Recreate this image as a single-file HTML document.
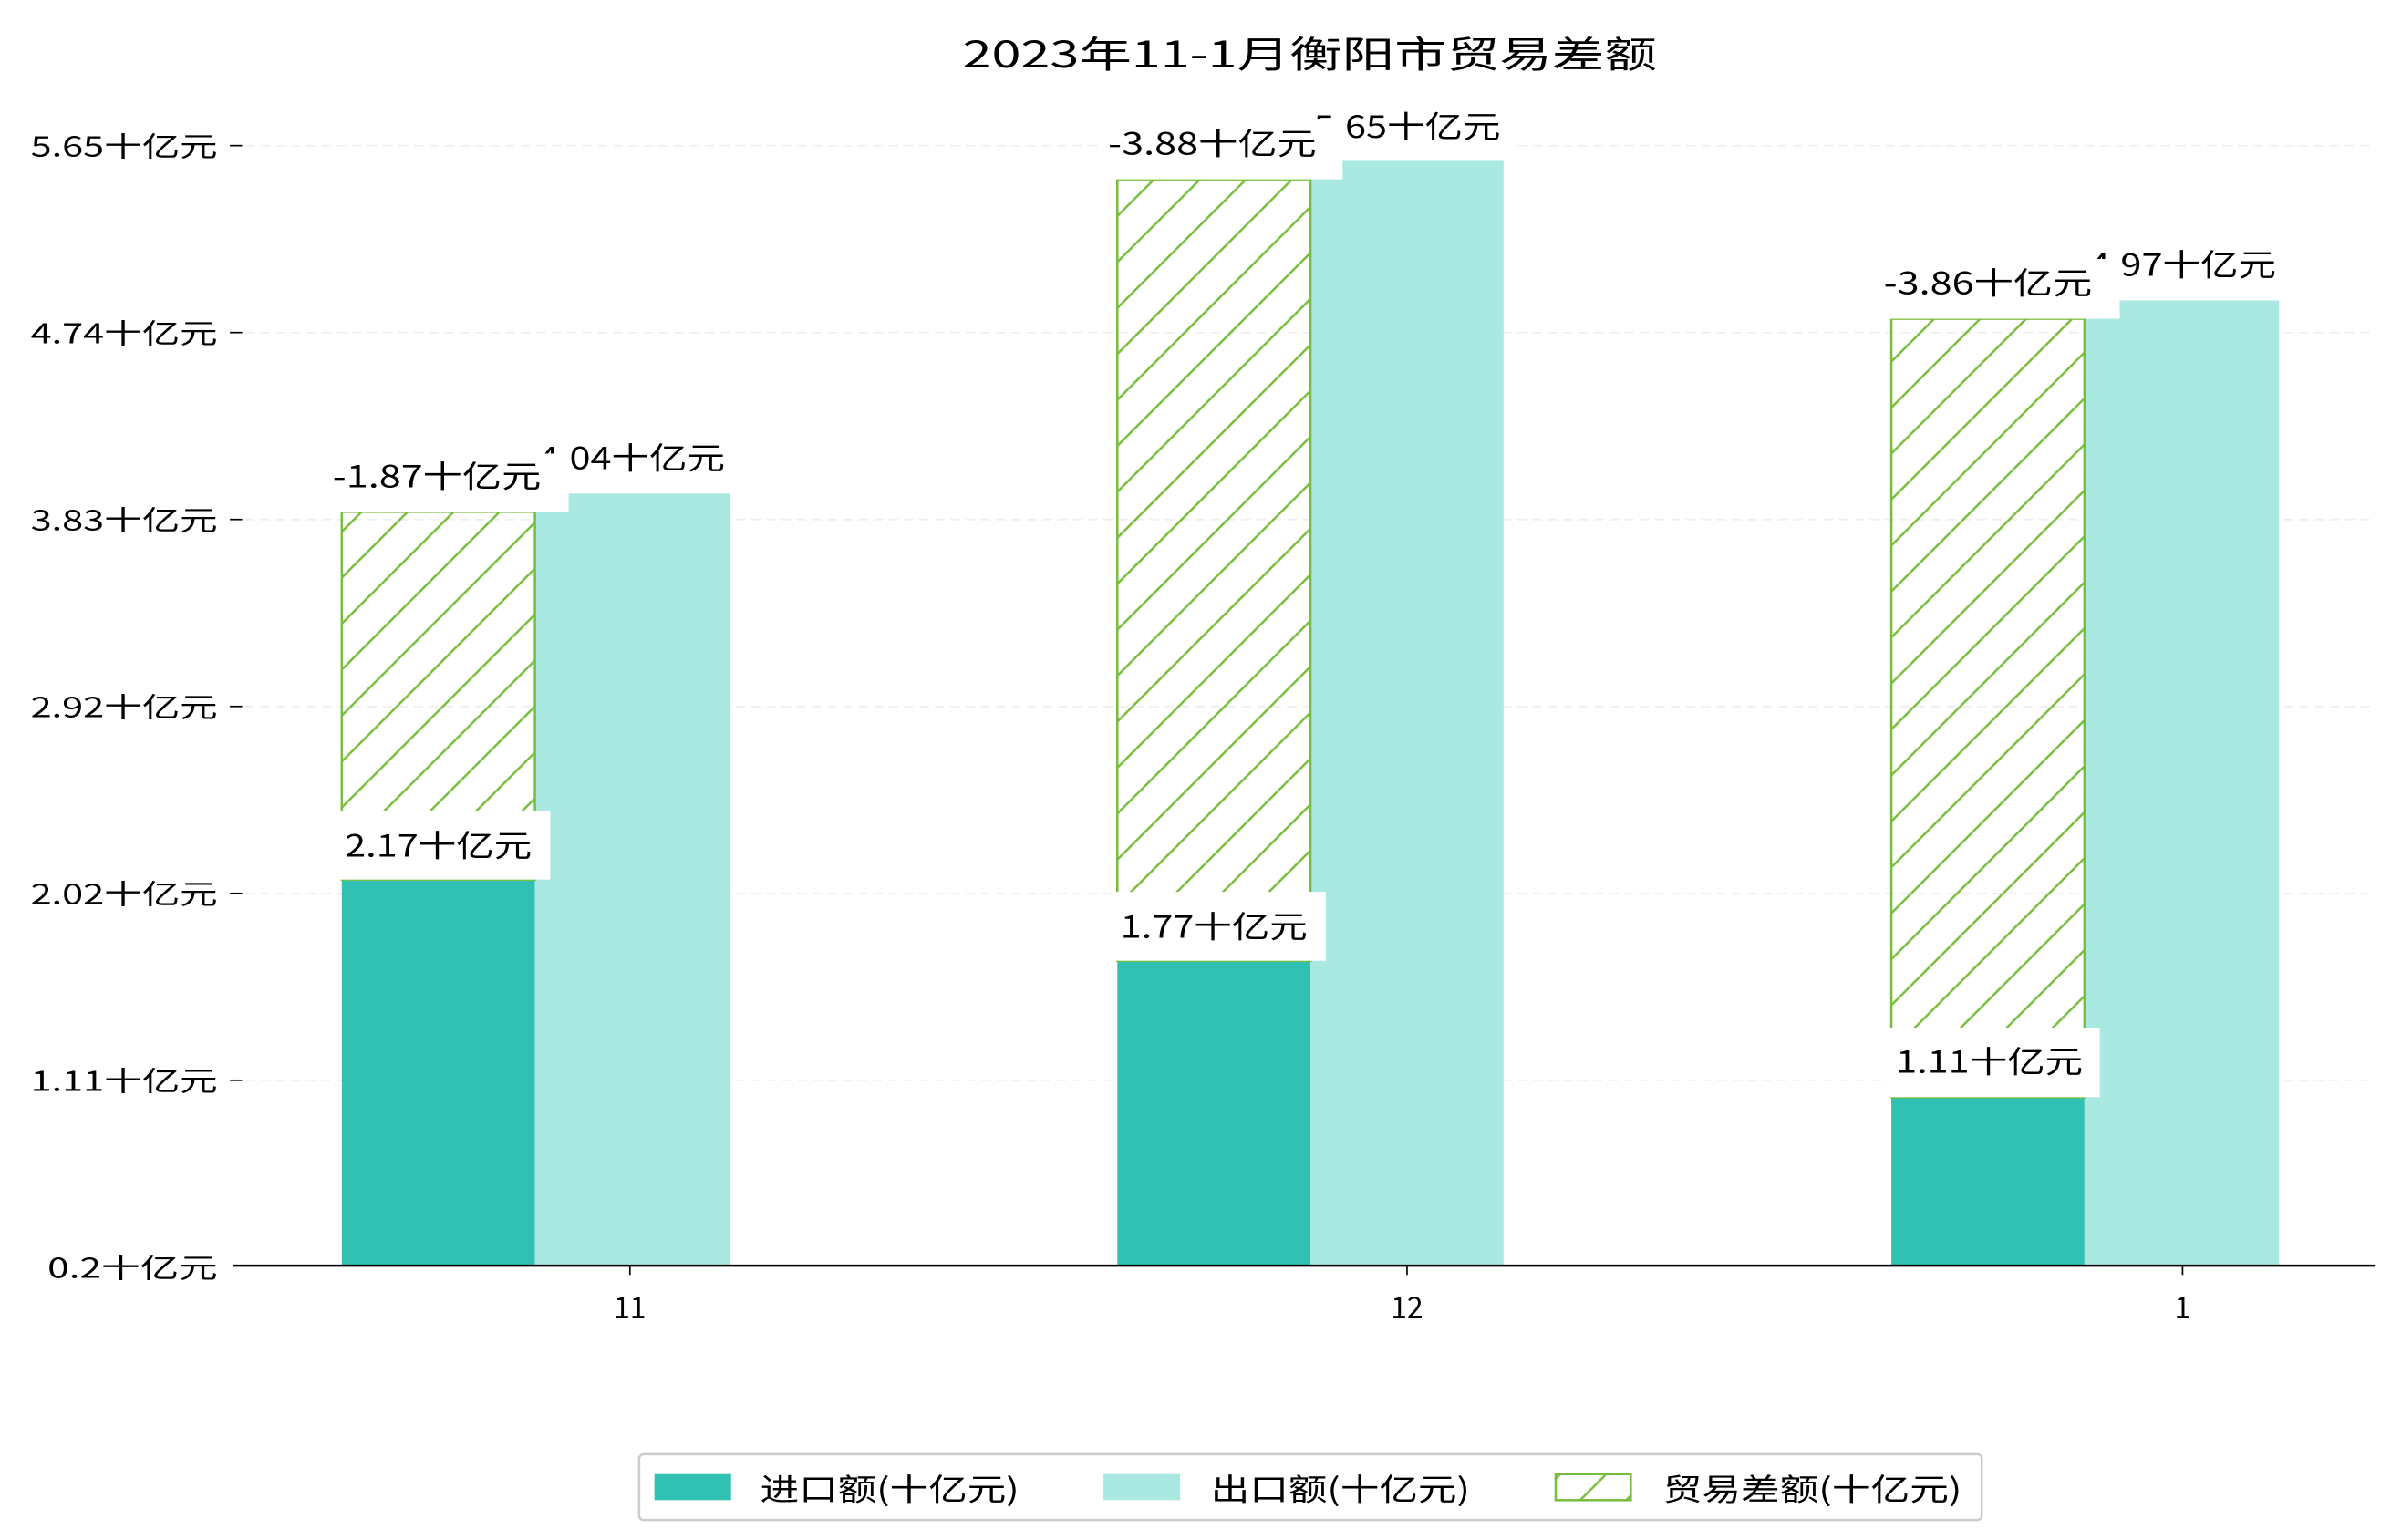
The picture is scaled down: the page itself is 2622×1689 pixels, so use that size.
<!DOCTYPE html>
<html><head><meta charset="utf-8"><style>html,body{margin:0;padding:0;background:#fff}svg{display:block}text{font-family:"Noto Sans CJK SC",sans-serif;fill:#000}</style></head>
<body>
<svg width="2622" height="1689" viewBox="0 0 1560 1005" preserveAspectRatio="none" xmlns="http://www.w3.org/2000/svg">
<defs>
<pattern id="h" patternUnits="userSpaceOnUse" width="30" height="30">
<path d="M-5,35 L35,-5 M-20,20 L20,-20 M10,50 L50,10" stroke="#78be3d" stroke-width="1.5"/>
</pattern>
</defs>
<text x="628" y="44" font-size="24" textLength="453" lengthAdjust="spacingAndGlyphs">2023年11-1月衡阳市贸易差额</text>
<g stroke="#eee" stroke-width="1" stroke-dasharray="6,4">
<line x1="160" x2="1550" y1="95" y2="95"/><line x1="160" x2="1550" y1="217" y2="217"/><line x1="160" x2="1550" y1="339" y2="339"/><line x1="160" x2="1550" y1="461" y2="461"/><line x1="160" x2="1550" y1="583" y2="583"/><line x1="160" x2="1550" y1="705" y2="705"/>
</g>
<g stroke="#000" stroke-width="1">
<line x1="150" x2="158" y1="95" y2="95"/><line x1="150" x2="158" y1="217" y2="217"/><line x1="150" x2="158" y1="339" y2="339"/><line x1="150" x2="158" y1="461" y2="461"/><line x1="150" x2="158" y1="583" y2="583"/><line x1="150" x2="158" y1="705" y2="705"/>
</g>
<g font-size="18">
<text x="20" y="102" textLength="122" lengthAdjust="spacingAndGlyphs">5.65十亿元</text>
<text x="20" y="224" textLength="122" lengthAdjust="spacingAndGlyphs">4.74十亿元</text>
<text x="20" y="346" textLength="122" lengthAdjust="spacingAndGlyphs">3.83十亿元</text>
<text x="20" y="468" textLength="122" lengthAdjust="spacingAndGlyphs">2.92十亿元</text>
<text x="20" y="590" textLength="122" lengthAdjust="spacingAndGlyphs">2.02十亿元</text>
<text x="20" y="712" textLength="122" lengthAdjust="spacingAndGlyphs">1.11十亿元</text>
<text x="31" y="834" textLength="111" lengthAdjust="spacingAndGlyphs">0.2十亿元</text>
</g>
<rect x="223" y="574" width="126" height="252" fill="#31c1b3"/>
<rect x="349" y="322" width="127" height="504" fill="#aae8e2"/>
<rect x="223" y="334" width="126" height="240" fill="url(#h)" stroke="#78be3d" stroke-width="1.5"/>
<rect x="729" y="627" width="126" height="199" fill="#31c1b3"/>
<rect x="855" y="105" width="126" height="721" fill="#aae8e2"/>
<rect x="729" y="117" width="126" height="510" fill="url(#h)" stroke="#78be3d" stroke-width="1.5"/>
<rect x="1234" y="716" width="126" height="110" fill="#31c1b3"/>
<rect x="1360" y="196" width="127" height="630" fill="#aae8e2"/>
<rect x="1234" y="208" width="126" height="508" fill="url(#h)" stroke="#78be3d" stroke-width="1.5"/>
<line x1="152" x2="1550" y1="826" y2="826" stroke="#000" stroke-width="1.5"/>
<g stroke="#000"><line x1="411" x2="411" y1="826" y2="832"/><line x1="918" x2="918" y1="826" y2="832"/><line x1="1424" x2="1424" y1="826" y2="832"/></g>
<g font-size="19" text-anchor="middle"><text x="411" y="860">11</text><text x="918" y="860">12</text><text x="1424" y="860">1</text></g>
<g font-size="20">
<rect x="220" y="529" width="139" height="45" fill="#fff"/><text x="225" y="559" textLength="122" lengthAdjust="spacingAndGlyphs">2.17十亿元</text>
<rect x="344" y="283" width="138" height="39" fill="#fff"/><text x="351" y="306" textLength="122" lengthAdjust="spacingAndGlyphs">4.04十亿元</text>
<rect x="212" y="296" width="159" height="38" fill="#fff"/><text x="217" y="318" textLength="136" lengthAdjust="spacingAndGlyphs">-1.87十亿元</text>
<rect x="726" y="582" width="139" height="45" fill="#fff"/><text x="731" y="612" textLength="122" lengthAdjust="spacingAndGlyphs">1.77十亿元</text>
<rect x="850" y="66" width="138" height="39" fill="#fff"/><text x="857" y="90" textLength="122" lengthAdjust="spacingAndGlyphs">5.65十亿元</text>
<rect x="718" y="78" width="158" height="39" fill="#fff"/><text x="723" y="101" textLength="136" lengthAdjust="spacingAndGlyphs">-3.88十亿元</text>
<rect x="1232" y="671" width="138" height="45" fill="#fff"/><text x="1237" y="700" textLength="122" lengthAdjust="spacingAndGlyphs">1.11十亿元</text>
<rect x="1355" y="157" width="138" height="39" fill="#fff"/><text x="1363" y="180" textLength="122" lengthAdjust="spacingAndGlyphs">4.97十亿元</text>
<rect x="1224" y="169" width="159" height="39" fill="#fff"/><text x="1229" y="192" textLength="136" lengthAdjust="spacingAndGlyphs">-3.86十亿元</text>
</g>
<rect x="417" y="949" width="876" height="43" rx="3" fill="#fff" stroke="#ccc" stroke-width="1.5"/>
<rect x="427" y="962" width="50" height="17" fill="#31c1b3"/>
<rect x="720" y="962" width="50" height="17" fill="#aae8e2"/>
<rect x="1015" y="962" width="49" height="17" fill="url(#h)" stroke="#78be3d" stroke-width="1.5"/>
<g font-size="20">
<text x="496" y="979" textLength="169" lengthAdjust="spacingAndGlyphs">进口额(十亿元)</text>
<text x="790" y="979" textLength="169" lengthAdjust="spacingAndGlyphs">出口额(十亿元)</text>
<text x="1085" y="979" textLength="195" lengthAdjust="spacingAndGlyphs">贸易差额(十亿元)</text>
</g>
</svg>
</body></html>
